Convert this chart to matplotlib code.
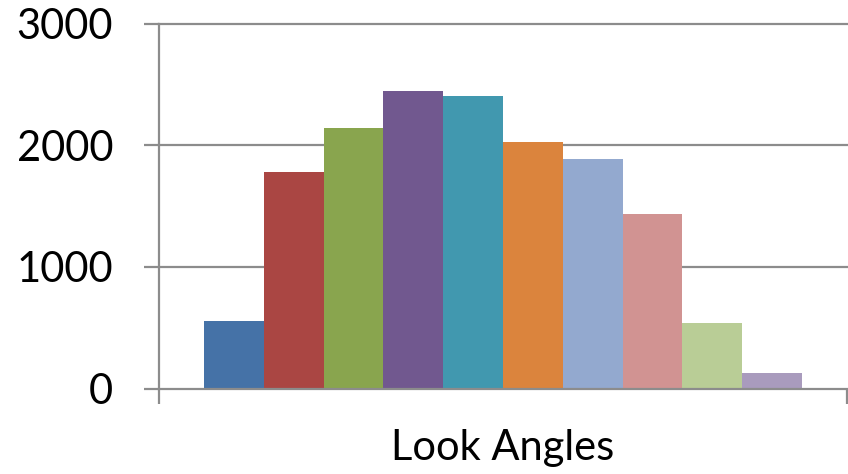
import matplotlib
matplotlib.use("Agg")
import matplotlib.pyplot as plt
import numpy as np

# Counts per look-angle bin
bins = ["1", "2", "3", "4", "5", "6", "7", "8", "9", "10"]
counts = [556, 1781, 2142, 2447, 2405, 2027, 1887, 1435, 540, 129]
colors = ["#4572A7", "#AA4643", "#89A54E", "#71588F", "#4198AF",
          "#DB843D", "#93A9CF", "#D19392", "#B9CD96", "#A99BBD"]
yticks = [0, 1000, 2000, 3000]
xlabel = "Look Angles"

plt.rcParams["font.family"] = ["Lato", "DejaVu Sans"]

fig = plt.figure(figsize=(8.48, 4.74), dpi=100)
ax = fig.add_axes([159 / 848, 85.3 / 474, 688 / 848, 365.2 / 474])

gap = 1.5  # gap width relative to one bar
w = 1.0 / (len(counts) + gap)
centers = 0.5 + (np.arange(len(counts)) - (len(counts) - 1) / 2) * w
ax.bar(centers, counts, width=w, color=colors, linewidth=0, zorder=3)

ax.set_xlim(0, 1)
ax.set_ylim(0, 3000)
ax.set_yticks(yticks)
ax.set_yticklabels([str(v) for v in yticks])
ax.set_xticks([0, 1])
ax.set_xticklabels([])

grid_col = "#8c8c8c"
for v in yticks[1:]:
    ax.axhline(v, color=grid_col, linewidth=1.6, zorder=1, clip_on=False)

for s in ["top", "right"]:
    ax.spines[s].set_visible(False)
for s in ["left", "bottom"]:
    ax.spines[s].set_color(grid_col)
    ax.spines[s].set_linewidth(1.6)
ax.spines["bottom"].set_zorder(4)

ax.tick_params(axis="y", direction="out", length=11, width=1.6,
               color=grid_col, labelsize=30, pad=22, labelcolor="black")
ax.tick_params(axis="x", direction="out", length=10.5, width=1.6,
               color=grid_col)

ax.set_xlabel(xlabel, fontsize=30, labelpad=15, color="black")

fig.savefig("out.png", dpi=100)
